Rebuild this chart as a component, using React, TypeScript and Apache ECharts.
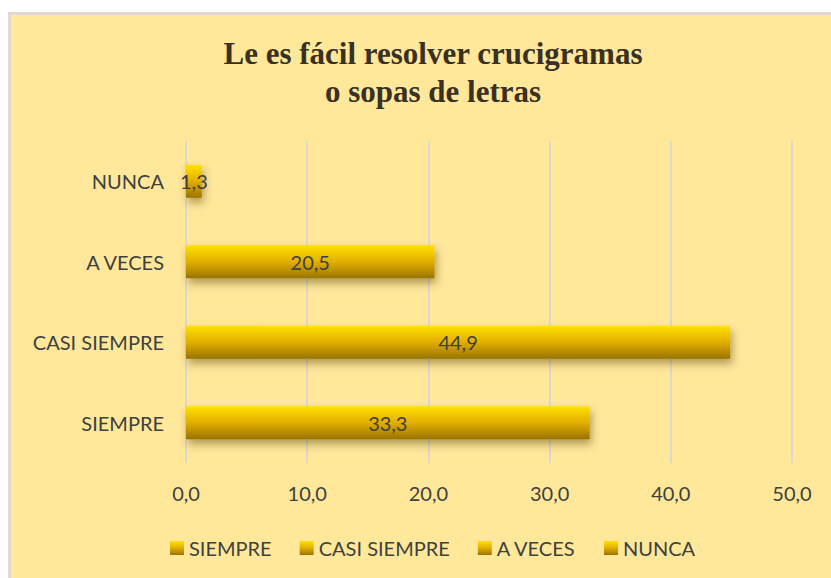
import React, { useEffect, useRef } from "react";
import * as echarts from "echarts";

const categories = ["SIEMPRE", "CASI SIEMPRE", "A VECES", "NUNCA"];
const values = [33.3, 44.9, 20.5, 1.3];
const xTicks = [0, 10, 20, 30, 40, 50];
const titleLines = ["Le es fácil resolver crucigramas", "o sopas de letras"];

const fmt = (v: number) => v.toFixed(1).replace(".", ",");
const FONT = "Lato";

export default function App() {
  const ref = useRef<HTMLDivElement>(null);
  useEffect(() => {
    document.body.style.margin = "0";
    const chart = echarts.init(ref.current!, null, { renderer: "svg" });
    const grad = new echarts.graphic.LinearGradient(0, 0, 0, 1, [
      { offset: 0, color: "#FFE200" },
      { offset: 0.5, color: "#E2AE00" },
      { offset: 1, color: "#9A7300" },
    ]);
    const series = categories.map((c, i) => ({
      name: c,
      type: "bar",
      stack: "all",
      barWidth: 33,
      data: categories.map((_, j) => (j === i ? values[i] : "-")),
      itemStyle: {
        color: grad,
        shadowColor: "rgba(80,60,0,0.45)",
        shadowBlur: 8,
        shadowOffsetX: 2,
        shadowOffsetY: 5,
      },
      label: {
        show: true,
        position: "inside",
        formatter: (p: any) => fmt(p.value),
        color: "#404040",
        fontSize: 20,
        fontFamily: FONT,
      },
    }));
    chart.setOption({
      animation: false,
      backgroundColor: "#ffffff",
      graphic: [
        {
          type: "rect",
          shape: { x: 9.5, y: 13.5, width: 830, height: 570 },
          style: { fill: "#FFE89A", stroke: "#dedad0", lineWidth: 3 },
          z: -10,
        },
      ],
      title: {
        text: titleLines.join("\n"),
        left: 428,
        textAlign: "center",
        top: 29,
        textStyle: {
          fontFamily: "Liberation Serif",
          fontWeight: "bold",
          fontSize: 31,
          lineHeight: 38,
          color: "#3a3024",
        },
      },
      legend: {
        data: categories,
        top: 533,
        left: 165,
        itemWidth: 14,
        itemHeight: 14,
        itemGap: 28,
        icon: "rect",
        textStyle: { fontSize: 20, color: "#404040", fontFamily: FONT },
      },
      grid: { left: 186, right: 39, top: 141, bottom: 115, containLabel: false },
      xAxis: {
        type: "value",
        min: xTicks[0],
        max: xTicks[xTicks.length - 1],
        interval: 10,
        axisLabel: {
          formatter: (v: number) => fmt(v),
          color: "#404040",
          fontSize: 20,
          fontFamily: FONT,
          margin: 20,
        },
        splitLine: { lineStyle: { color: "#dcd8cc", width: 2 } },
        axisLine: { show: false },
        axisTick: { show: false },
      },
      yAxis: {
        type: "category",
        data: categories,
        axisLabel: { color: "#404040", fontSize: 20, fontFamily: FONT, margin: 22 },
        axisLine: { show: false },
        axisTick: { show: false },
      },
      series,
    });
    return () => chart.dispose();
  }, []);
  return <div ref={ref} style={{ width: 831, height: 578 }} />;
}
